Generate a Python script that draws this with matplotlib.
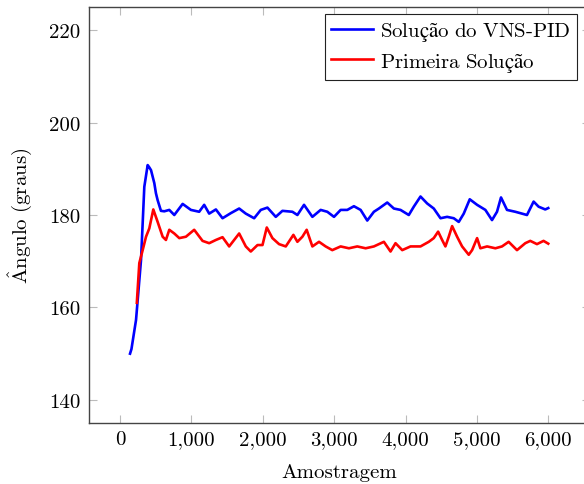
import numpy as np
import matplotlib
matplotlib.use("Agg")
import matplotlib.pyplot as plt
from matplotlib.ticker import FuncFormatter

plt.rcParams.update({
    'font.family': ['cmr10', 'DejaVu Serif'],
    'mathtext.fontset': 'cm',
    'axes.unicode_minus': False,
    'font.size': 15,
})

# (sample index, angle in degrees)
vns_x = [140, 160, 224, 294, 340, 387, 410, 434, 480, 503, 527, 573, 620, 690, 760,
         877, 993, 1109, 1179, 1249, 1343, 1436, 1552, 1669, 1762, 1879, 1972, 2065,
         2182, 2275, 2415, 2485, 2578, 2695, 2811, 2904, 2998, 3091, 3184, 3277, 3371,
         3464, 3557, 3627, 3744, 3837, 3930, 4046, 4116, 4210, 4303, 4396, 4490, 4583,
         4676, 4746, 4816, 4900, 5003, 5119, 5212, 5282, 5338, 5422, 5538, 5702, 5795,
         5865, 5958, 6000]
vns_y = [150.0, 151.0, 157.3, 170.3, 186.1, 190.8, 190.3, 189.7, 186.9, 184.7, 183.2,
         180.9, 180.8, 181.1, 180.0, 182.4, 181.1, 180.7, 182.2, 180.3, 181.2, 179.3,
         180.4, 181.4, 180.3, 179.3, 181.1, 181.6, 179.6, 180.9, 180.7, 180.0, 182.2,
         179.6, 181.1, 180.7, 179.6, 181.1, 181.1, 181.9, 181.1, 178.8, 180.7, 181.4,
         182.7, 181.4, 181.1, 180.0, 181.8, 184.0, 182.5, 181.4, 179.3, 179.6, 179.3,
         178.5, 180.3, 183.4, 182.2, 181.1, 178.9, 180.7, 183.8, 181.1, 180.7, 180.0,
         182.9, 181.8, 181.2, 181.5]

first_x = [235, 270, 317, 364, 410, 466, 527, 597, 643, 690, 760, 830, 923, 1039, 1156,
           1249, 1343, 1436, 1529, 1669, 1762, 1832, 1926, 1996, 2056, 2135, 2228, 2322,
           2429, 2485, 2555, 2615, 2695, 2788, 2881, 2974, 3091, 3207, 3324, 3441, 3557,
           3697, 3790, 3860, 3954, 4070, 4210, 4326, 4396, 4457, 4513, 4559, 4606, 4653,
           4723, 4793, 4886, 4933, 5003, 5049, 5143, 5259, 5352, 5445, 5562, 5678, 5748,
           5842, 5934, 6000]
first_y = [161.0, 169.6, 172.4, 175.3, 177.1, 181.2, 178.5, 175.3, 174.6, 176.8, 176.0,
           175.0, 175.3, 176.8, 174.4, 173.9, 174.6, 175.2, 173.2, 176.0, 173.2, 172.1,
           173.5, 173.5, 177.3, 175.0, 173.7, 173.2, 175.7, 174.2, 175.3, 176.8, 173.2,
           174.2, 173.2, 172.4, 173.2, 172.8, 173.2, 172.8, 173.2, 174.2, 172.1, 173.9,
           172.4, 173.2, 173.2, 174.2, 175.0, 176.4, 174.6, 173.2, 175.3, 177.6, 175.3,
           173.2, 171.4, 172.4, 175.0, 172.8, 173.2, 172.8, 173.2, 174.2, 172.4, 173.9,
           174.4, 173.7, 174.4, 173.8]

xticks = [0, 1000, 2000, 3000, 4000, 5000, 6000]
yticks = [140, 160, 180, 200, 220]

fig = plt.figure(figsize=(5.84, 4.85), dpi=100)
ax = fig.add_axes([89 / 584, 1 - 424 / 485, (590 - 89) / 584, (424 - 8) / 485])

ax.plot(vns_x, vns_y, color='blue', linewidth=1.9,
        label=r'$\mathrm{Solução\ do\ VNS}$-$\mathrm{PID}$')
ax.plot(first_x, first_y, color='red', linewidth=1.9,
        label=r'$\mathrm{Primeira\ Solução}$')

ax.set_xlim(-435, 6585)
ax.set_ylim(135, 225)
ax.set_xticks(xticks)
ax.set_yticks(yticks)
ax.xaxis.set_major_formatter(FuncFormatter(lambda v, p: f'{int(v):,}'))
ax.tick_params(direction='in', length=6, width=0.8, color='#bbbbbb',
               top=True, right=True, labelsize=15)
ax.tick_params(axis='x', pad=5)
ax.tick_params(axis='y', pad=6)
for s in ax.spines.values():
    s.set_color('#444444')
    s.set_linewidth(1.0)

ax.set_xlabel('Amostragem', fontsize=15, labelpad=11)
ax.set_ylabel(r'$\mathrm{\hat{A}ngulo\ (graus)}$', fontsize=15, labelpad=11)

# legend box right edge at x=577 px, top at y=15 px
lx = (577 - 89) / (590 - 89)
ly = (424 - 15) / (424 - 8)
leg = ax.legend(loc='upper right', bbox_to_anchor=(lx, ly), borderaxespad=0,
                fancybox=False, edgecolor='#222222', framealpha=1, fontsize=15,
                handlelength=2.0, borderpad=0.3, labelspacing=0.35, handletextpad=0.35)
leg.get_frame().set_linewidth(0.8)

fig.savefig('out.png', dpi=100)
